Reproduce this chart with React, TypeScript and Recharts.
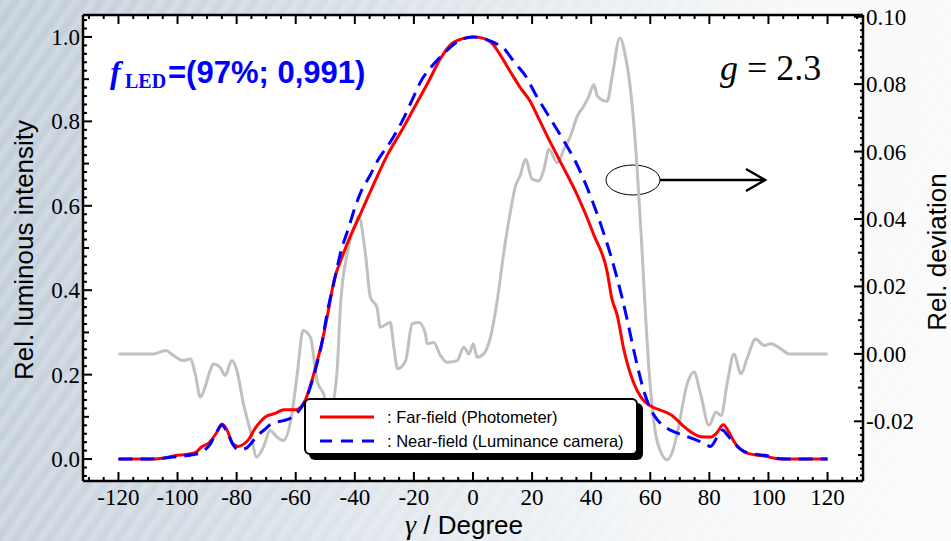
import React from "react";
import { ComposedChart, Line, XAxis, YAxis, CartesianGrid, Legend, Customized } from "recharts";

// far-field (photometer), relative luminous intensity
const farAngle = [
  -120, -110, -105, -101, -97, -94, -92, -89.5, -87, -85, -83, -81.5, -79.5, -77.5, -76, -73.7, -70.4, -67, -64,
  -60, -57, -55, -53, -51, -49, -47, -44.5, -42, -38, -33, -29, -24, -20, -15, -11, -7, -4, 0, 2, 6, 9, 12.7, 16,
  19.5, 22, 25, 29.6, 35.3, 40.9, 45.4, 47, 48.8, 51.1, 54.4, 57, 60, 63, 67, 71.4, 74, 77, 80.4, 82.5, 84.7, 86.5,
  88.3, 92.8, 99.6, 104, 120,
];
const farIntensity = [
  0, 0, 0.002, 0.008, 0.011, 0.015, 0.028, 0.038, 0.06, 0.083, 0.065, 0.038, 0.03, 0.036, 0.046, 0.073, 0.099, 0.108,
  0.117, 0.117, 0.136, 0.175, 0.225, 0.28, 0.35, 0.424, 0.475, 0.52, 0.582, 0.661, 0.72, 0.78, 0.831, 0.895, 0.949,
  0.985, 0.995, 1.0, 0.999, 0.988, 0.96, 0.917, 0.88, 0.846, 0.81, 0.767, 0.704, 0.625, 0.531, 0.444, 0.38, 0.341,
  0.258, 0.18, 0.145, 0.126, 0.117, 0.105, 0.077, 0.063, 0.053, 0.052, 0.062, 0.081, 0.065, 0.042, 0.014, 0.006, 0, 0,
];

// near-field (luminance camera), relative luminous intensity
const nearAngle = [
  -120, -110, -105, -100, -95, -92, -89, -87, -85, -83, -81, -79.4, -77, -75, -73.2, -70.5, -68.7, -66, -64.2, -61.5,
  -59.6, -57, -55, -53, -51, -49.4, -47, -44.9, -42, -40, -38, -35, -32, -28, -24, -20, -17.8, -14, -9.9, -5, 0, 3.6,
  7, 10.4, 14, 18.3, 21, 24, 29.6, 35.3, 40.9, 44, 46.6, 50.5, 52.5, 54.4, 56, 57.7, 60, 62.4, 65.7, 69, 72.5, 75.9,
  78, 80.4, 82.5, 84.4, 86.3, 88.3, 91.7, 95, 99.6, 104, 110, 120,
];
const nearIntensity = [
  0, 0, 0.002, 0.006, 0.01, 0.016, 0.035, 0.06, 0.08, 0.06, 0.032, 0.022, 0.025, 0.038, 0.054, 0.07, 0.081, 0.088,
  0.091, 0.098, 0.109, 0.135, 0.172, 0.22, 0.28, 0.345, 0.42, 0.487, 0.55, 0.595, 0.632, 0.67, 0.71, 0.751, 0.8,
  0.86, 0.893, 0.93, 0.961, 0.99, 1.0, 0.996, 0.987, 0.973, 0.94, 0.902, 0.866, 0.831, 0.767, 0.696, 0.602, 0.54,
  0.483, 0.381, 0.32, 0.258, 0.21, 0.164, 0.12, 0.093, 0.073, 0.062, 0.053, 0.044, 0.038, 0.03, 0.05, 0.069, 0.055,
  0.038, 0.018, 0.012, 0.008, 0.001, 0, 0,
];

// relative deviation (right axis)
const devAngle = [
  -120, -108, -104, -101.4, -98, -95.7, -94, -92.3, -90.7, -89, -87.9, -85.6, -83.9, -81.6, -79.9, -77.7, -75.4,
  -73.2, -70.9, -68.7, -66.5, -64.2, -61.3, -59.5, -57.5, -55, -52.8, -50.6, -48.5, -46, -44.9, -42.6, -39.8, -38.7,
  -36.4, -34.7, -32.5, -31.4, -28, -26.8, -25.5, -22.8, -20.6, -18.3, -16.1, -15.5, -13.3, -11, -8.8, -5.4, -3.1,
  -1.4, 0.1, 1.4, 3.6, 5.9, 8.2, 10.4, 12.7, 14.4, 16, 17.8, 20, 22.3, 24, 25.7, 28.5, 30.8, 33, 35.3, 37.5, 39.2,
  40.9, 42.1, 45.4, 47.1, 49.7, 51.6, 53.8, 55.5, 57.2, 58.4, 59.5, 61.8, 63.5, 65.7, 67.5, 69.1, 72.5, 74.8, 77,
  79.9, 82.2, 83.9, 86.2, 88.3, 90.7, 92.9, 95.7, 98.5, 100.8, 104.2, 107, 120,
];
const devValue = [
  0, 0, 0.001, -0.0005, -0.002, -0.0015, -0.006, -0.0128, -0.0099, -0.005, -0.003, -0.004, -0.0064, -0.002, -0.005,
  -0.0148, -0.0227, -0.0306, -0.0276, -0.0227, -0.0245, -0.0257, -0.0178, -0.006, 0.0069, 0.0049, -0.0079, -0.0118,
  -0.018, -0.005, 0.0138, 0.0296, 0.0385, 0.0409, 0.0296, 0.0167, 0.0138, 0.0079, 0.0093, 0.002, -0.0044, -0.002,
  0.0089, 0.0093, 0.0059, 0.003, 0.0034, -0.0005, -0.0025, -0.002, 0.002, 0, 0.003, -0.001, 0, 0.0049, 0.0158, 0.03,
  0.0424, 0.0498, 0.053, 0.0577, 0.0518, 0.0513, 0.0547, 0.0607, 0.0567, 0.0607, 0.0646, 0.0705, 0.0735, 0.0764,
  0.0799, 0.0764, 0.0749, 0.0823, 0.0937, 0.0883, 0.0744, 0.0557, 0.031, 0.0113, -0.004, -0.0237, -0.029, -0.0314,
  -0.029, -0.0237, -0.0089, -0.0054, -0.0118, -0.0212, -0.0173, -0.0183, -0.0079, 0, -0.0059, -0.001, 0.0044, 0.0025,
  0.003, 0.0015, 0, 0,
];

const angleLabels = [-120, -100, -80, -60, -40, -20, 0, 20, 40, 60, 80, 100, 120];
const intensityLabels = [0, 0.2, 0.4, 0.6, 0.8, 1.0];
const deviationLabels = [-0.02, 0, 0.02, 0.04, 0.06, 0.08, 0.1];

const farData = farAngle.map((x, i) => ({ x, y: farIntensity[i] }));
const nearData = nearAngle.map((x, i) => ({ x, y: nearIntensity[i] }));
const devData = devAngle.map((x, i) => ({ x, y: devValue[i] }));

// minor tick positions
const steps = (from: number, to: number, step: number) => {
  const n = Math.round((to - from) / step);
  return Array.from({ length: n + 1 }, (_, i) => Math.round((from + i * step) * 10000) / 10000);
};
const angleTicks = steps(-130, 130, 5);
const intensityTicks = steps(-0.04, 1.04, 0.02);
const deviationTicks = steps(-0.036, 0.1, 0.002);

const near = (v: number, list: number[]) => list.some((t) => Math.abs(t - v) < 1e-6);
const onStep = (v: number, step: number) => Math.abs(v / step - Math.round(v / step)) < 1e-6;

const SERIF = "'Liberation Serif', 'Times New Roman', serif";
const SANS = "'Liberation Sans', Arial, sans-serif";
const TICK_FONT = 23;

const BottomTick = ({ x, y, payload }: any) => {
  const v = payload.value;
  const major = near(v, angleLabels);
  return (
    <g>
      <line x1={x} x2={x} y1={y} y2={y - (major ? 9 : 4)} stroke="#000" strokeWidth={2} />
      {major && (
        <text x={x} y={y + 24} textAnchor="middle" fontFamily={SERIF} fontSize={TICK_FONT} fill="#000">
          {v}
        </text>
      )}
    </g>
  );
};

const TopTick = ({ x, y, payload }: any) => {
  const major = near(payload.value, angleLabels);
  return <line x1={x} x2={x} y1={y} y2={y + (major ? 9 : 4)} stroke="#000" strokeWidth={2} />;
};

const LeftTick = ({ x, y, payload }: any) => {
  const v = payload.value;
  const major = near(v, intensityLabels);
  const len = major ? 9 : onStep(v, 0.1) ? 6 : 4;
  return (
    <g>
      <line x1={x} x2={x + len} y1={y} y2={y} stroke="#000" strokeWidth={2} />
      {major && (
        <text x={x - 3} y={y + 8} textAnchor="end" fontFamily={SERIF} fontSize={TICK_FONT} fill="#000">
          {v.toFixed(1)}
        </text>
      )}
    </g>
  );
};

const RightTick = ({ x, y, payload }: any) => {
  const v = payload.value;
  const major = near(v, deviationLabels);
  const len = major ? 9 : onStep(v, 0.01) ? 5 : 3;
  return (
    <g>
      <line x1={x} x2={x - len} y1={y} y2={y} stroke="#000" strokeWidth={2} />
      {major && (
        <text x={x + 3} y={y + 8} textAnchor="start" fontFamily={SERIF} fontSize={TICK_FONT} fill="#000">
          {v.toFixed(2)}
        </text>
      )}
    </g>
  );
};

const Annotations = () => (
  <g>
    <text x={110} y={83} fill="#0000ff" fontFamily={SERIF} fontStyle="italic" fontWeight="bold" fontSize={32}>
      f
    </text>
    <text x={125} y={88} fill="#0000ff" fontFamily={SERIF} fontWeight="bold" fontSize={20}>
      LED
    </text>
    <text x={168} y={83} fill="#0000ff" fontFamily={SANS} fontWeight="bold" fontSize={31}>
      =(97%; 0,991)
    </text>
    <text x={720} y={80} fontFamily={SERIF} fontSize={36} fill="#000">
      <tspan fontStyle="italic">g</tspan>
      <tspan> = 2.3</tspan>
    </text>
    <ellipse cx={633} cy={180} rx={27} ry={15} fill="none" stroke="#000" strokeWidth={1} />
    <line x1={660} x2={765} y1={180} y2={180} stroke="#000" strokeWidth={2.5} />
    <polyline points="746,169 765,180 746,191" fill="none" stroke="#000" strokeWidth={2.5} />
    <text
      x={33}
      y={250}
      transform="rotate(-90 33 250)"
      textAnchor="middle"
      fontFamily={SANS}
      fontSize={26}
      fill="#000"
    >
      Rel. luminous intensity
    </text>
    <text
      x={946}
      y={252}
      transform="rotate(-90 946 252)"
      textAnchor="middle"
      fontFamily={SANS}
      fontSize={26}
      fill="#000"
    >
      Rel. deviation
    </text>
    <text x={405} y={534} fill="#000">
      <tspan fontFamily={SERIF} fontStyle="italic" fontSize={28}>
        γ
      </tspan>
      <tspan fontFamily={SANS} fontSize={26}>
        {" / Degree"}
      </tspan>
    </text>
  </g>
);

const LegendBox = () => (
  <div
    style={{
      width: 334,
      height: 57,
      boxSizing: "border-box",
      border: "2px solid #000",
      borderRadius: 6,
      background: "#fff",
      boxShadow: "5px 5px 0 #000",
      position: "relative",
      fontFamily: SANS,
      fontSize: 16.5,
      color: "#000",
    }}
  >
    <svg width={70} height={57} style={{ position: "absolute", left: 0, top: -2 }}>
      <line x1={14} x2={68} y1={19} y2={19} stroke="#ff0000" strokeWidth={3} />
      <line x1={14} x2={68} y1={43} y2={43} stroke="#0000ff" strokeWidth={3} strokeDasharray="12 9" />
    </svg>
    <div style={{ position: "absolute", left: 81, top: 7, lineHeight: "20px", whiteSpace: "nowrap" }}>
      : Far-field (Photometer)
    </div>
    <div style={{ position: "absolute", left: 81, top: 31, lineHeight: "20px", whiteSpace: "nowrap" }}>
      : Near-field (Luminance camera)
    </div>
  </div>
);

export default function App() {
  return (
    <div
      style={{
        width: 951,
        height: 541,
        position: "relative",
        overflow: "hidden",
        background:
          "repeating-linear-gradient(125deg, rgba(255,255,255,0) 0px, rgba(255,255,255,0.25) 6px, rgba(255,255,255,0) 14px), linear-gradient(100deg, #bfcbd7 0%, #d3dce5 30%, #e7ecf0 55%, #f6f7f8 75%, #fbfbfb 100%)",
      }}
    >
      <style>{"body{margin:0}"}</style>
      <ComposedChart width={951} height={541} margin={{ top: 14, right: 87, bottom: 59, left: 82 }}>
        <CartesianGrid horizontal={false} vertical={false} fill="#ffffff" stroke="none" />
        <XAxis
          xAxisId="bottom"
          type="number"
          dataKey="x"
          domain={[-132, 132]}
          allowDataOverflow
          ticks={angleTicks}
          interval={0}
          height={1}
          tickSize={0}
          tickMargin={0}
          tick={BottomTick}
          axisLine={{ stroke: "#000", strokeWidth: 2.5 }}
          tickLine={false}
        />
        <XAxis
          xAxisId="top"
          orientation="top"
          type="number"
          dataKey="x"
          domain={[-132, 132]}
          allowDataOverflow
          ticks={angleTicks}
          interval={0}
          height={1}
          tickSize={0}
          tickMargin={0}
          tick={TopTick}
          axisLine={{ stroke: "#000", strokeWidth: 2.5 }}
          tickLine={false}
        />
        <YAxis
          yAxisId="left"
          type="number"
          domain={[-0.052, 1.052]}
          allowDataOverflow
          ticks={intensityTicks}
          interval={0}
          width={1}
          tickSize={0}
          tickMargin={0}
          tick={LeftTick}
          axisLine={{ stroke: "#000", strokeWidth: 2.5 }}
          tickLine={false}
        />
        <YAxis
          yAxisId="right"
          orientation="right"
          type="number"
          domain={[-0.0377, 0.1005]}
          allowDataOverflow
          ticks={deviationTicks}
          interval={0}
          width={1}
          tickSize={0}
          tickMargin={0}
          tick={RightTick}
          axisLine={{ stroke: "#000", strokeWidth: 2.5 }}
          tickLine={false}
        />
        <Line
          xAxisId="top"
          yAxisId="right"
          data={devData}
          dataKey="y"
          name="Rel. deviation"
          type="monotone"
          stroke="#c0c0c0"
          strokeWidth={3}
          dot={false}
          activeDot={false}
          legendType="none"
          isAnimationActive={false}
        />
        <Line
          xAxisId="bottom"
          yAxisId="left"
          data={farData}
          dataKey="y"
          name="Far-field (Photometer)"
          type="monotone"
          stroke="#ff0000"
          strokeWidth={3}
          dot={false}
          activeDot={false}
          isAnimationActive={false}
        />
        <Line
          xAxisId="bottom"
          yAxisId="left"
          data={nearData}
          dataKey="y"
          name="Near-field (Luminance camera)"
          type="monotone"
          stroke="#0000ff"
          strokeWidth={3}
          strokeDasharray="14 8"
          dot={false}
          activeDot={false}
          isAnimationActive={false}
        />
        <Customized component={<Annotations />} />
        <Legend
          layout="horizontal"
          verticalAlign="middle"
          align="center"
          content={() => <LegendBox />}
          wrapperStyle={{ position: "absolute", left: 304, top: 398, width: 334, height: 57 }}
        />
      </ComposedChart>
    </div>
  );
}
